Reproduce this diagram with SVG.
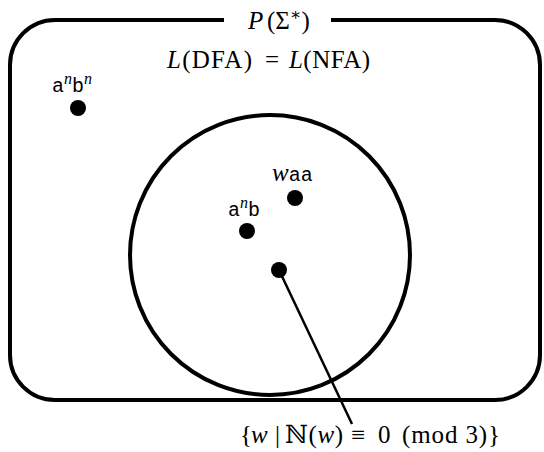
<svg xmlns="http://www.w3.org/2000/svg" width="544" height="452" viewBox="0 0 544 452">
<style>
.shape{fill:none;stroke:#000;stroke-width:4}
.dot{fill:#000}
.rm{font-family:'Liberation Serif','DejaVu Serif',serif;font-size:25px}
.it{font-style:italic}
.tt{font-family:'Liberation Mono','DejaVu Sans Mono',monospace;font-size:20px}
.sup{font-family:'Liberation Serif','DejaVu Serif',serif;font-style:italic;font-size:16px}
</style>
<rect width="544" height="452" fill="#fff"/>
<g id="universe">
<path class="shape" d="M224,20 H55 A45,45 0 0 0 10,65 V355 A45,45 0 0 0 55,400 H495 A45,45 0 0 0 540,355 V65 A45,45 0 0 0 495,20 H331"/>
<text class="rm" x="248" y="29"><tspan class="it">P</tspan><tspan x="267">(Σ</tspan><tspan font-size="17" dy="-9">∗</tspan><tspan dy="9">)</tspan></text>
</g>
<g id="regular">
<circle class="shape" cx="270" cy="255" r="140"/>
<text class="rm" y="68"><tspan x="167" textLength="85" lengthAdjust="spacing"><tspan class="it">L</tspan>(DFA)</tspan><tspan x="272" text-anchor="middle">=</tspan><tspan x="289" textLength="81" lengthAdjust="spacing"><tspan class="it">L</tspan>(NFA)</tspan></text>
</g>
<g id="anbn">
<circle class="dot" cx="78" cy="108" r="8"/>
<text x="52" y="92"><tspan class="tt">a</tspan><tspan class="sup" dy="-8">n</tspan><tspan class="tt" dy="8">b</tspan><tspan class="sup" dy="-8">n</tspan></text>
</g>
<g id="waa">
<circle class="dot" cx="295" cy="198" r="8"/>
<text x="272" y="181"><tspan class="rm it">w</tspan><tspan class="tt">aa</tspan></text>
</g>
<g id="anb">
<circle class="dot" cx="247" cy="231" r="8"/>
<text x="228" y="216"><tspan class="tt">a</tspan><tspan class="sup" dy="-8">n</tspan><tspan class="tt" dy="8">b</tspan></text>
</g>
<g id="mod3">
<circle class="dot" cx="279" cy="270" r="8"/>
<text class="rm" y="443"><tspan x="240">{</tspan><tspan x="251" class="it">w</tspan><tspan x="275">|</tspan><tspan x="285" textLength="58" lengthAdjust="spacing">ℕ(<tspan class="it">w</tspan>)</tspan><tspan x="351">≡</tspan><tspan x="378">0</tspan><tspan x="402" textLength="98" lengthAdjust="spacing">(mod 3)}</tspan></text>
</g>
<g id="connectors">
<line x1="279" y1="270" x2="352" y2="424" stroke="#000" stroke-width="2.5"/>
</g>
</svg>
